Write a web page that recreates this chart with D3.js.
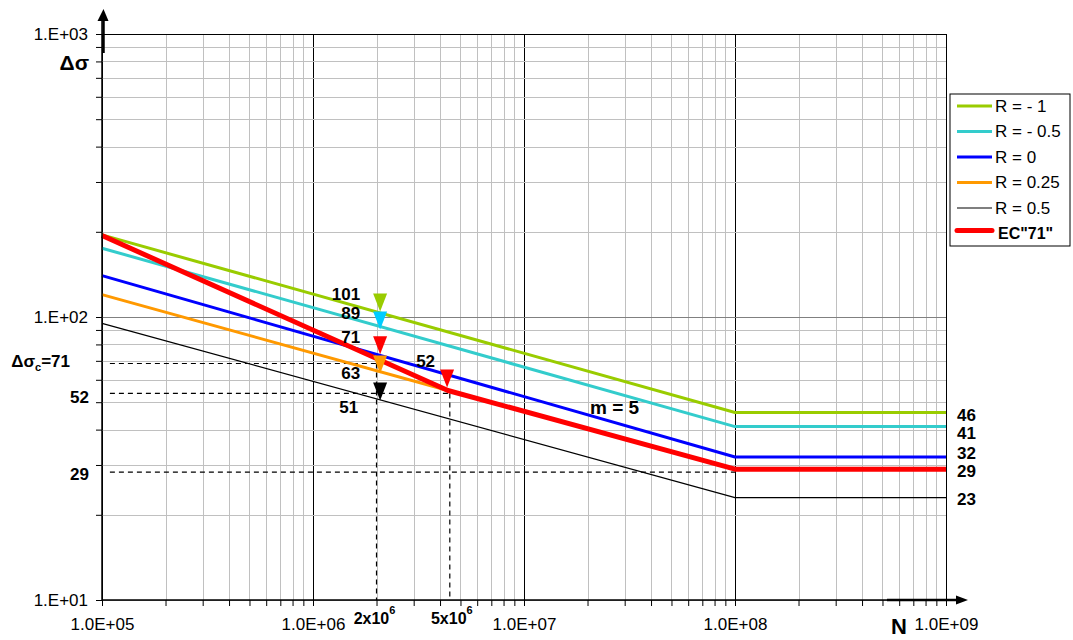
<!DOCTYPE html>
<meta charset="utf-8">
<html lang="en">
<style>
body { margin: 0; background: #fff; }
svg { font-family: "Liberation Sans", Arial, sans-serif; }
.tick text { font-size: 17px; fill: #000; }
.lbl { font-weight: bold; font-size: 17px; }
.grid-minor { stroke: #c0c0c0; stroke-width: 1px; }
.grid-major { stroke: #000; stroke-width: 1px; }
.gridh-major { stroke: #808080; stroke-width: 1px; }
.dash { stroke: #000; stroke-width: 1.2px; stroke-dasharray: 5,4; fill: none; }
.curve { fill: none; stroke-linejoin: round; }
</style>
<body>
<div id="chart"></div>
<script src="https://cdn.jsdelivr.net/npm/d3@7"></script>
<script>
// S-N curves
var nLin   = [1e5, 1e8, 1e9];
var sRm1   = [195, 46, 46];
var sRm05  = [175, 41, 41];
var sR0    = [140, 32, 32];
var sR05   = [95, 23, 23];
var nKnee  = [1e5, 4.36e6, 1e8, 1e9];
var sR025  = [120, 55, 29, 29];
var sEC    = [194, 55, 29, 29];

var legendNames = ["R = - 1", "R = - 0.5", "R = 0", "R = 0.25", "R = 0.5", 'EC"71"'];

// triangles: cycles, tip stress, label
var markN   = [2.08e6, 2.08e6, 2.08e6, 2.08e6, 2.08e6, 4.32e6];
var markS   = [104.5, 90.4, 73.8, 63.2, 50.7, 56.4];
var markTxt = ["101", "89", "71", "63", "51", "52"];

// end labels on right
var endS   = [46, 41, 32, 29, 23];
var endTxt = ["46", "41", "32", "29", "23"];

// dashed guide lines
var dashLevels = [68.5, 53.7, 28.3];
var dashEndN   = [2e6, 4.45e6, 1e8];
var dashVertN  = [2e6, 4.45e6];

var xTickLabels = ["1.0E+05", "1.0E+06", "1.0E+07", "1.0E+08", "1.0E+09"];
var yTickLabels = ["1.E+01", "1.E+02", "1.E+03"];

var W = 1073, H = 640;
var x = d3.scaleLog().domain([1e5, 1e9]).range([102, 946]);
var y = d3.scaleLog().domain([10, 1000]).range([600, 34]);

var svg = d3.select("#chart").append("svg").attr("width", W).attr("height", H);

var xMinor = [], yMinor = [];
for (var d = 5; d < 9; d++) for (var k = 1; k < 10; k++) xMinor.push(k * Math.pow(10, d));
xMinor.push(1e9);
for (var d2 = 1; d2 < 3; d2++) for (var k2 = 1; k2 < 10; k2++) yMinor.push(k2 * Math.pow(10, d2));
yMinor.push(1000);
function isMajor(v) { var l = Math.log10(v); return Math.abs(l - Math.round(l)) < 1e-9; }

// grid
var grid = svg.append("g");
grid.selectAll(".gv").data(xMinor).enter().append("line")
  .attr("class", function(v) { return isMajor(v) ? "grid-major" : "grid-minor"; })
  .attr("x1", function(v) { return Math.round(x(v)) + 0.5; })
  .attr("x2", function(v) { return Math.round(x(v)) + 0.5; })
  .attr("y1", y(1000)).attr("y2", y(10));
grid.selectAll(".gh").data(yMinor).enter().append("line")
  .attr("class", function(v) { return v === 1000 ? "grid-major" : (isMajor(v) ? "gridh-major" : "grid-minor"); })
  .attr("y1", function(v) { return Math.round(y(v)) + 0.5; })
  .attr("y2", function(v) { return Math.round(y(v)) + 0.5; })
  .attr("x1", x(1e5)).attr("x2", x(1e9));

// dashed guides
var dash = svg.append("g");
dashLevels.forEach(function(v, i) {
  dash.append("line").attr("class", "dash")
    .attr("x1", x(1.09e5)).attr("x2", x(dashEndN[i]))
    .attr("y1", y(v)).attr("y2", y(v));
});
dashVertN.forEach(function(n, i) {
  dash.append("line").attr("class", "dash")
    .attr("x1", x(n)).attr("x2", x(n))
    .attr("y1", y(dashLevels[i])).attr("y2", y(10));
});

// curves
var line = d3.line().x(function(p) { return x(p[0]); }).y(function(p) { return y(p[1]); });
function pts(ns, ss) { return ns.map(function(n, i) { return [n, ss[i]]; }); }
var curves = [
  { d: pts(nLin, sRm1),  c: "#99cc00", w: 3 },
  { d: pts(nLin, sRm05), c: "#33cccc", w: 3 },
  { d: pts(nLin, sR0),   c: "#0000ff", w: 3 },
  { d: pts(nKnee, sR025), c: "#ff9900", w: 3 },
  { d: pts(nLin, sR05),  c: "#000000", w: 1.2 },
  { d: pts(nKnee, sEC),  c: "#ff0000", w: 5 }
];
svg.append("g").selectAll("path").data(curves).enter().append("path")
  .attr("class", "curve")
  .attr("d", function(c) { return line(c.d); })
  .attr("stroke", function(c) { return c.c; })
  .attr("stroke-width", function(c) { return c.w; });

// triangles
var markCol = ["#99cc00", "#00ccff", "#ff0000", "#ff9900", "#000000", "#ff0000"];
var lblDx = [-20, -20, -20, -20, -22, -12];
var lblDy = [-18, -16, -17, 0, 7, -26];
svg.append("g").selectAll("path").data(markN).enter().append("path")
  .attr("d", function(n, i) {
    var cx = x(n), ty = y(markS[i]);
    return "M" + (cx - 7) + "," + (ty - 18) + "L" + (cx + 7) + "," + (ty - 18) + "L" + cx + "," + ty + "Z";
  })
  .attr("fill", function(n, i) { return markCol[i]; });
svg.append("g").selectAll("text").data(markN).enter().append("text")
  .attr("class", "lbl")
  .attr("text-anchor", "end")
  .attr("x", function(n, i) { return x(n) + lblDx[i]; })
  .attr("y", function(n, i) { return y(markS[i]) + lblDy[i]; })
  .attr("dy", "0.35em")
  .text(function(n, i) { return markTxt[i]; });

// end labels
var endDy = [3, 6, -4, 2, 1];
svg.append("g").selectAll("text").data(endS).enter().append("text")
  .attr("class", "lbl")
  .attr("x", 957)
  .attr("y", function(v, i) { return y(v) + endDy[i]; })
  .attr("dy", "0.35em")
  .text(function(v, i) { return endTxt[i]; });

// left labels
svg.append("text").attr("class", "lbl").attr("text-anchor", "end")
  .attr("x", 89).attr("y", y(dashLevels[1]) + 4).attr("dy", "0.35em").text("52");
svg.append("text").attr("class", "lbl").attr("text-anchor", "end")
  .attr("x", 89).attr("y", y(dashLevels[2]) + 2).attr("dy", "0.35em").text("29");
var dsc = svg.append("text").attr("class", "lbl").attr("text-anchor", "end")
  .attr("x", 70).attr("y", y(dashLevels[0]) - 2).attr("dy", "0.35em");
dsc.append("tspan").text("Δσ");
dsc.append("tspan").attr("font-size", "11px").attr("dy", "4").text("c");
dsc.append("tspan").attr("dy", "-4").text("=71");
svg.append("text").attr("class", "lbl").attr("text-anchor", "end")
  .attr("x", 89).attr("y", 63).attr("dy", "0.35em").style("font-size", "21px").text("Δσ");
svg.append("text").attr("class", "lbl").attr("x", 590).attr("y", 407)
  .attr("dy", "0.35em").style("font-size", "19px").text("m = 5");

// axes
var yAxis = d3.axisLeft(y).tickValues(yMinor).tickSize(6).tickPadding(8)
  .tickFormat(function(v) { return isMajor(v) ? yTickLabels[Math.round(Math.log10(v)) - 1] : ""; });
var gy = svg.append("g").attr("transform", "translate(" + x(1e5) + ",0)").call(yAxis);
gy.select(".domain").remove();
gy.selectAll(".tick line").attr("stroke", "#000");

var xAxis = d3.axisBottom(x).tickValues(xMinor).tickSize(6).tickPadding(12)
  .tickFormat(function(v) { return isMajor(v) ? xTickLabels[Math.round(Math.log10(v)) - 5] : ""; });
var gx = svg.append("g").attr("transform", "translate(0," + y(10) + ")").call(xAxis);
gx.select(".domain").remove();
gx.selectAll(".tick line").attr("stroke", "#000");

// axis lines with arrows
svg.append("line").attr("x1", x(1e5)).attr("x2", x(1e5)).attr("y1", y(10)).attr("y2", 14)
  .attr("stroke", "#000").attr("stroke-width", 1.5);
svg.append("line").attr("x1", x(1e5) + 1.5).attr("x2", x(1e5) + 1.5).attr("y1", 16).attr("y2", 53)
  .attr("stroke", "#000").attr("stroke-width", 2.5);
svg.append("path").attr("d", "M" + (x(1e5) - 4.5) + ",21L" + (x(1e5) + 1.5) + ",9L" + (x(1e5) + 6.5) + ",21Z");
svg.append("line").attr("x1", x(1e5)).attr("x2", 958).attr("y1", y(10)).attr("y2", y(10))
  .attr("stroke", "#000").attr("stroke-width", 1.5);
svg.append("line").attr("x1", 887).attr("x2", 958).attr("y1", y(10)).attr("y2", y(10))
  .attr("stroke", "#000").attr("stroke-width", 2.5);
svg.append("path").attr("d", "M956," + (y(10) - 4.5) + "L968," + y(10) + "L956," + (y(10) + 4.5) + "Z");

// x annotations
function powLabel(cx, base) {
  var t = svg.append("text").attr("class", "lbl").attr("text-anchor", "middle")
    .attr("x", cx).attr("y", 624).style("font-size", "16px");
  t.append("tspan").text(base);
  t.append("tspan").attr("dy", "-10").style("font-size", "11px").text("6");
}
powLabel(x(dashVertN[0]) - 2, "2x10");
powLabel(x(dashVertN[1]) + 2, "5x10");
svg.append("text").attr("class", "lbl").attr("x", 891).attr("y", 634)
  .style("font-size", "22px").text("N");

// legend
var lg = svg.append("g").attr("transform", "translate(950,94)");
lg.append("rect").attr("width", 120).attr("height", 152)
  .attr("fill", "#fff").attr("stroke", "#000").attr("stroke-width", 1);
var item = lg.selectAll(".item").data(legendNames).enter().append("g")
  .attr("transform", function(nm, i) { return "translate(0," + (12 + i * 25.5) + ")"; });
item.append("line").attr("x1", 7).attr("x2", 42)
  .attr("y1", function(nm, i) { return i === 5 ? -3 : 0; })
  .attr("y2", function(nm, i) { return i === 5 ? -3 : 0; })
  .attr("stroke", function(nm, i) { return curves[i].c; })
  .attr("stroke-width", function(nm, i) { return i === 5 ? 5 : (i === 4 ? 1.2 : 3); })
  .attr("stroke-linecap", function(nm, i) { return i === 5 ? "round" : "butt"; });
item.append("text").attr("x", function(nm, i) { return i === 5 ? 48 : 45; }).attr("dy", "0.35em")
  .style("font-size", function(nm, i) { return i === 5 ? "16px" : "17px"; })
  .style("font-weight", function(nm, i) { return i === 5 ? "bold" : "normal"; })
  .text(function(nm) { return nm; });
</script>
</body>
</html>
